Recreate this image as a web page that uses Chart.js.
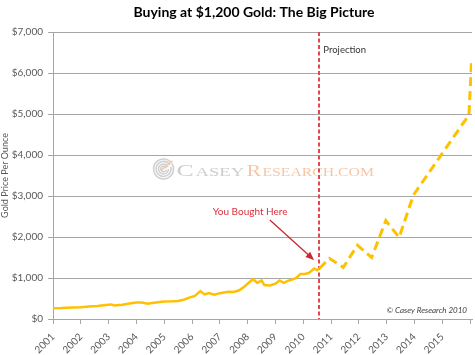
<!DOCTYPE html>
<html><head><meta charset="utf-8">
<script src="https://cdn.jsdelivr.net/npm/chart.js@4.4.0/dist/chart.umd.min.js"></script>
<style>html,body{margin:0;padding:0;background:#fff;}#wrap{width:475px;height:355px;position:relative;}canvas{display:block;}</style>
</head><body><div id="wrap"><canvas id="c" width="475" height="355"></canvas></div>
<script>
const titleText = 'Buying at $1,200 Gold: The Big Picture';
const yAxisTitle = 'Gold Price Per Ounce';
const xTickYears = [2001,2002,2003,2004,2005,2006,2007,2008,2009,2010,2011,2012,2013,2014,2015,2016];
const xTickLabels = ['2001','2002','2003','2004','2005','2006','2007','2008','2009','2010','2011','2012','2013','2014','2015',''];
const yTickValues = [0,1000,2000,3000,4000,5000,6000,7000];

const actualYears = [2001.0,2001.3,2001.7,2002.0,2002.3,2002.6,2002.9,2003.1,2003.2,2003.5,2003.8,2004.0,2004.2,2004.4,2004.7,2005.0,2005.3,2005.5,2005.7,2005.9,2006.1,2006.3,2006.45,2006.6,2006.8,2007.0,2007.3,2007.5,2007.7,2007.9,2008.1,2008.2,2008.35,2008.5,2008.6,2008.8,2009.0,2009.15,2009.3,2009.45,2009.6,2009.75,2009.9,2010.05,2010.2,2010.4,2010.5,2010.58];
const actualPrices = [265,268,280,285,305,315,340,355,330,350,385,405,400,375,405,425,430,440,470,520,565,680,600,630,590,630,665,660,700,800,920,970,880,940,830,820,860,940,880,930,960,1000,1100,1100,1120,1230,1190,1230];

const projectionYears = [2010.58,2010.94,2011.44,2011.95,2012.46,2012.97,2013.45,2013.96,2015.96,2016.05];
const projectionPrices = [1230,1480,1260,1800,1500,2400,1990,3020,4980,6240];

const purchaseYear = 2010.58;
const annotationText = 'You Bought Here';
const projectionLabel = 'Projection';
const copyrightText = '\u00A9 Casey Research 2010';

const toXY = (xs, ys) => xs.map((x, i) => ({x: x, y: ys[i]}));
const GOLD = '#FFC000';
const GRID = '#a6a6a6';
const LBL = '#595959';
const FONT = 'Lato, "Open Sans", sans-serif';

const overlay = {
  id: 'overlay',
  beforeDatasetsDraw(chart) {
    const ctx = chart.ctx, xs = chart.scales.x, ys = chart.scales.y, a = chart.chartArea;
    const cx = xs.getPixelForValue(2008.5), cy = ys.getPixelForValue(3660);
    ctx.save();
    const lx = cx - 98, ly = cy;
    ctx.strokeStyle = '#d0d0d0';
    ctx.lineWidth = 1.6;
    [10, 7.5, 5, 2.8].forEach((r, i) => {
      ctx.beginPath();
      ctx.arc(lx, ly, r, -0.6 + i * 0.3, Math.PI * 1.75 + i * 0.2);
      ctx.stroke();
    });
    ctx.strokeStyle = '#f3c9a8';
    ctx.beginPath();
    ctx.moveTo(lx - 2, ly + 1); ctx.lineTo(lx + 9, ly - 8);
    ctx.stroke();
    const base = ly + 7;
    function drawSC(word, x0, width, color) {
      const big = '16px "Liberation Serif", "DejaVu Serif", serif';
      const small = '11.5px "Liberation Serif", "DejaVu Serif", serif';
      ctx.font = big; const w1 = ctx.measureText(word[0]).width;
      ctx.font = small; const w2 = ctx.measureText(word.slice(1)).width;
      const sx = width / (w1 + w2);
      ctx.save();
      ctx.translate(x0, base); ctx.scale(sx, 1);
      ctx.fillStyle = color; ctx.textBaseline = 'alphabetic'; ctx.textAlign = 'left';
      ctx.font = big; ctx.fillText(word[0], 0, 0);
      ctx.font = small; ctx.fillText(word.slice(1), w1 + 1, 0);
      ctx.restore();
    }
    drawSC('CASEY', lx + 13, 66, '#cdcdcd');
    drawSC('RESEARCH.COM', lx + 83, 126, '#f6c6a6');
    ctx.restore();

    const px = Math.round(xs.getPixelForValue(purchaseYear));
    ctx.save();
    ctx.strokeStyle = '#e4464f';
    ctx.lineWidth = 2;
    ctx.setLineDash([4, 2.5]);
    ctx.beginPath(); ctx.moveTo(px, a.top); ctx.lineTo(px, a.bottom); ctx.stroke();
    ctx.restore();
  },
  afterDatasetsDraw(chart) {
    const ctx = chart.ctx, xs = chart.scales.x, ys = chart.scales.y, a = chart.chartArea;
    ctx.save();
    ctx.font = 'bold 14px ' + FONT;
    ctx.fillStyle = '#000';
    ctx.textAlign = 'center'; ctx.textBaseline = 'middle';
    ctx.fillText(titleText, 254, 12);
    ctx.font = '9.5px ' + FONT;
    ctx.fillStyle = '#333333';
    ctx.textAlign = 'left'; ctx.textBaseline = 'middle';
    ctx.fillText(projectionLabel, xs.getPixelForValue(purchaseYear) + 4, ys.getPixelForValue(6570));
    ctx.font = '10px ' + FONT;
    ctx.fillStyle = '#d8323e';
    ctx.textAlign = 'center';
    ctx.fillText(annotationText, xs.getPixelForValue(2008.09), ys.getPixelForValue(2610));
    const x1 = xs.getPixelForValue(2008.8), y1 = ys.getPixelForValue(2415);
    const x2 = xs.getPixelForValue(2010.35), y2 = ys.getPixelForValue(1463);
    ctx.strokeStyle = '#c8282f'; ctx.fillStyle = '#c8282f';
    ctx.lineWidth = 1.3;
    ctx.beginPath(); ctx.moveTo(x1, y1); ctx.lineTo(x2, y2); ctx.stroke();
    const ang = Math.atan2(y2 - y1, x2 - x1), hl = 7, hw = 3.5;
    ctx.beginPath();
    ctx.moveTo(x2 + 1, y2 + 1);
    ctx.lineTo(x2 - hl * Math.cos(ang) + hw * Math.sin(ang), y2 - hl * Math.sin(ang) - hw * Math.cos(ang));
    ctx.lineTo(x2 - hl * Math.cos(ang) - hw * Math.sin(ang), y2 - hl * Math.sin(ang) + hw * Math.cos(ang));
    ctx.closePath(); ctx.fill();
    ctx.font = 'italic 8px ' + FONT;
    ctx.fillStyle = '#404040';
    ctx.textAlign = 'right';
    ctx.fillText(copyrightText, a.right - 5, ys.getPixelForValue(200));
    ctx.restore();
  }
};

new Chart(document.getElementById('c'), {
  type: 'line',
  data: {
    datasets: [
      { label: 'Gold price', data: toXY(actualYears, actualPrices), borderColor: GOLD, borderWidth: 2.5, pointRadius: 0, tension: 0, fill: false },
      { label: 'Projection', data: toXY(projectionYears, projectionPrices), borderColor: GOLD, borderWidth: 3, borderDash: [9, 5], pointRadius: 0, tension: 0, fill: false }
    ]
  },
  options: {
    responsive: false,
    animation: false,
    devicePixelRatio: 1,
    layout: { padding: { top: 32, right: 3, bottom: 0, left: 0 } },
    plugins: {
      legend: { display: false },
      tooltip: { enabled: false },
      title: { display: false, text: titleText }
    },
    scales: {
      x: {
        type: 'linear', min: 2001, max: 2016.07,
        afterBuildTicks: (s) => { s.ticks = xTickYears.map(v => ({ value: v })); },
        afterFit: (s) => { s.height = 36; s.paddingLeft = 0; s.paddingRight = 0; },
        ticks: { color: LBL, font: { family: FONT, size: 10 }, minRotation: 45, maxRotation: 45, autoSkip: false, padding: 7,
          callback: (v) => { const i = xTickYears.indexOf(v); return i >= 0 ? xTickLabels[i] : ''; } },
        grid: { drawOnChartArea: false, drawTicks: true, tickLength: 5, color: GRID, lineWidth: 1 },
        border: { color: GRID, width: 1 }
      },
      y: {
        min: 0, max: 7000,
        afterBuildTicks: (s) => { s.ticks = yTickValues.map(v => ({ value: v })); },
        afterFit: (s) => { s.width = 53; s.paddingTop = 0; s.paddingBottom = 0; },
        ticks: { color: LBL, font: { family: FONT, size: 10 }, padding: 5,
          callback: (v) => '$' + v.toLocaleString('en-US') },
        grid: { color: GRID, lineWidth: 1, tickLength: 5 },
        border: { color: GRID, width: 1 },
        title: { display: true, text: yAxisTitle, color: LBL, font: { family: FONT, size: 9 }, padding: { top: 0, bottom: 0 } }
      }
    }
  },
  plugins: [overlay]
});
</script></body></html>
